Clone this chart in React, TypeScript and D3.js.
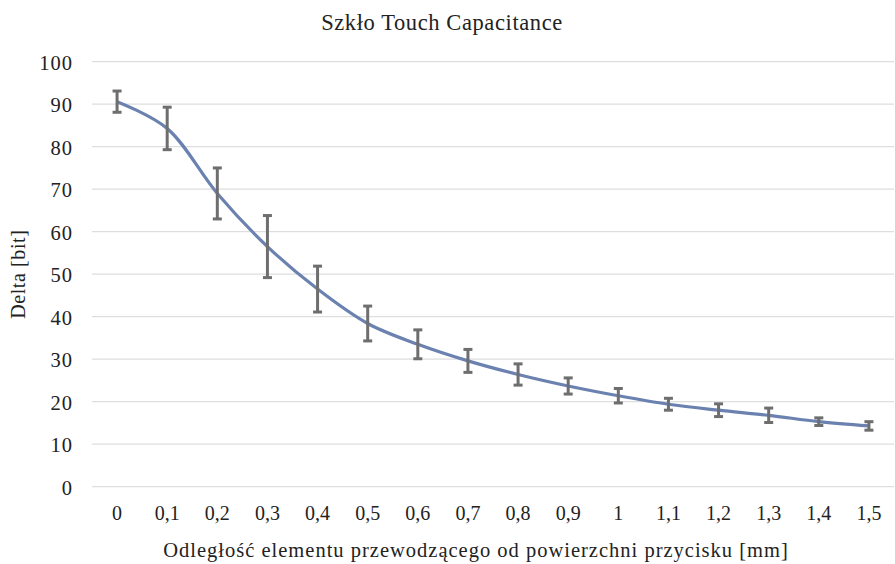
import React from "react";
import * as d3 from "d3";

const categories = ["0", "0,1", "0,2", "0,3", "0,4", "0,5", "0,6", "0,7", "0,8", "0,9", "1", "1,1", "1,2", "1,3", "1,4", "1,5"];
const values = [90.6, 84.3, 69.0, 56.5, 46.5, 38.4, 33.5, 29.6, 26.4, 23.7, 21.4, 19.4, 18.0, 16.8, 15.3, 14.3];
const errors = [2.5, 5.0, 6.0, 7.3, 5.4, 4.1, 3.4, 2.7, 2.5, 1.9, 1.7, 1.4, 1.5, 1.7, 0.9, 1.0];
const yTicks = [0, 10, 20, 30, 40, 50, 60, 70, 80, 90, 100];

const W = 895;
const H = 564;
const left = 92;
const right = 894;
const top = 61.7;
const bottom = 486.7;
const font = "Liberation Serif, Times New Roman, Tinos, DejaVu Serif, serif";

const App = () => {
  const x = d3.scalePoint<string>().domain(categories).range([left, right]).padding(0.5);
  const y = d3.scaleLinear().domain([0, 100]).range([bottom, top]);

  const line = d3
    .line<number>()
    .x((_, i) => x(categories[i]) as number)
    .y((d) => y(d))
    .curve(d3.curveCatmullRom.alpha(0.5));

  const txt = { fontFamily: font, fill: "#222" };

  return (
    <svg width={W} height={H} style={{ position: "absolute", left: 0, top: 0, background: "#fff" }}>
      <text x={442} y={30} textAnchor="middle" style={{ ...txt, fontSize: 22.5, letterSpacing: 0.6 }}>
        Szkło Touch Capacitance
      </text>

      {yTicks.map((t) => (
        <g key={t}>
          <line x1={left} x2={right} y1={y(t)} y2={y(t)} stroke="#dedede" strokeWidth={1.2} />
          <text x={73} y={y(t) + 8} textAnchor="end" style={{ ...txt, fontSize: 20.5, letterSpacing: 1 }}>
            {t}
          </text>
        </g>
      ))}

      {categories.map((c) => (
        <text key={c} x={x(c)} y={520} textAnchor="middle" style={{ ...txt, fontSize: 20 }}>
          {c}
        </text>
      ))}

      <path d={line(values) || ""} fill="none" stroke="#6b82b0" strokeWidth={3.2} />

      {values.map((v, i) => {
        const cx = x(categories[i]) as number;
        const y1 = y(v + errors[i]);
        const y2 = y(v - errors[i]);
        return (
          <g key={i} stroke="#6e6e6e" strokeWidth={3}>
            <line x1={cx} x2={cx} y1={y1} y2={y2} />
            <line x1={cx - 4.5} x2={cx + 4.5} y1={y1} y2={y1} />
            <line x1={cx - 4.5} x2={cx + 4.5} y1={y2} y2={y2} />
          </g>
        );
      })}

      <text
        transform={`translate(25,${(top + bottom) / 2}) rotate(-90)`}
        textAnchor="middle"
        style={{ ...txt, fontSize: 20, letterSpacing: 0.6 }}
      >
        Delta [bit]
      </text>
      <text x={476} y={557} textAnchor="middle" style={{ ...txt, fontSize: 20.5, letterSpacing: 1 }}>
        Odległość elementu przewodzącego od powierzchni przycisku [mm]
      </text>
    </svg>
  );
};

export default App;
